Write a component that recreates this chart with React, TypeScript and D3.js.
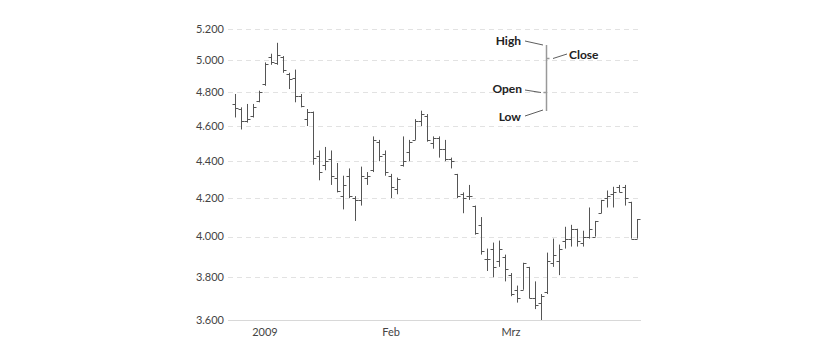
import * as d3 from 'd3';

// trading days, Dec 2008 - Mar 2009
const dates = [
  '2008-12-19', '2008-12-22', '2008-12-23', '2008-12-29', '2008-12-30',
  '2009-01-02', '2009-01-05', '2009-01-06', '2009-01-07', '2009-01-08', '2009-01-09',
  '2009-01-12', '2009-01-13', '2009-01-14', '2009-01-15', '2009-01-16',
  '2009-01-19', '2009-01-20', '2009-01-21', '2009-01-22', '2009-01-23',
  '2009-01-26', '2009-01-27', '2009-01-28', '2009-01-29', '2009-01-30',
  '2009-02-02', '2009-02-03', '2009-02-04', '2009-02-05', '2009-02-06',
  '2009-02-09', '2009-02-10', '2009-02-11', '2009-02-12', '2009-02-13',
  '2009-02-16', '2009-02-17', '2009-02-18', '2009-02-19', '2009-02-20',
  '2009-02-23', '2009-02-24', '2009-02-25', '2009-02-26', '2009-02-27',
  '2009-03-02', '2009-03-03', '2009-03-04', '2009-03-05', '2009-03-06',
  '2009-03-09', '2009-03-10', '2009-03-11', '2009-03-12', '2009-03-13',
  '2009-03-16', '2009-03-17', '2009-03-18', '2009-03-19', '2009-03-20',
  '2009-03-23', '2009-03-24', '2009-03-25', '2009-03-26', '2009-03-27',
  '2009-03-30', '2009-03-31',
];

const open = [
  4730, 4700, 4630, 4660, 4750,
  4850, 5020, 4980, 5020, 4910, 4890,
  4780, 4640, 4680, 4430, 4380,
  4410, 4310, 4210, 4320, 4200,
  4190, 4310, 4350, 4510, 4440,
  4320, 4250, 4380, 4450, 4520,
  4630, 4660, 4500, 4530, 4470,
  4410, 4330, 4220, 4210, 4160,
  4060, 3890, 3940, 3880, 3900,
  3810, 3740, 3740, 3850, 3700,
  3680, 3730, 3870, 3880, 3980,
  3990, 4040, 3970, 4000, 4000,
  4120, 4200, 4220, 4260, 4260,
  4180, 3990,
];
const high = [
  4790, 4710, 4730, 4730, 4810,
  4985, 5040, 5110, 5025, 4920, 4940,
  4790, 4700, 4685, 4460, 4480,
  4460, 4390, 4320, 4360, 4210,
  4370, 4340, 4540, 4520, 4460,
  4330, 4310, 4540, 4520, 4640,
  4690, 4670, 4540, 4540, 4520,
  4420, 4330, 4230, 4270, 4160,
  4100, 3940, 3970, 3980, 3910,
  3820, 3760, 3870, 3850, 3780,
  3720, 3920, 3990, 3960, 4050,
  4060, 4040, 4030, 4150, 4080,
  4190, 4240, 4260, 4270, 4270,
  4180, 4090,
];
const low = [
  4650, 4580, 4620, 4650, 4740,
  4840, 4970, 4970, 4920, 4820, 4740,
  4710, 4600, 4380, 4295, 4350,
  4270, 4230, 4140, 4200, 4080,
  4160, 4270, 4340, 4400, 4320,
  4200, 4220, 4370, 4400, 4520,
  4600, 4510, 4470, 4420, 4400,
  4360, 4200, 4120, 4190, 4010,
  3910, 3830, 3800, 3850, 3780,
  3710, 3680, 3740, 3700, 3650,
  3600, 3720, 3850, 3810, 3940,
  3950, 3950, 3950, 3990, 4000,
  4120, 4150, 4150, 4230, 4160,
  3990, 3990,
];
const close = [
  4705, 4630, 4640, 4710, 4800,
  4975, 4990, 5030, 4940, 4880, 4780,
  4720, 4680, 4420, 4340, 4400,
  4320, 4240, 4270, 4210, 4190,
  4320, 4320, 4520, 4430, 4340,
  4260, 4300, 4400, 4510, 4630,
  4670, 4520, 4530, 4470, 4410,
  4400, 4210, 4200, 4210, 4020,
  3930, 3890, 3850, 3940, 3840,
  3720, 3700, 3870, 3700, 3670,
  3710, 3880, 3910, 3940, 3990,
  4040, 3980, 4000, 4040, 4080,
  4190, 4210, 4230, 4230, 4200,
  3990, 4090,
];

const yTicks = [3600, 3800, 4000, 4200, 4400, 4600, 4800, 5000, 5200];
const monthLabels = ['2009', 'Feb', 'Mrz'];

const WIDTH = 840;
const HEIGHT = 360;
const PLOT_LEFT = 228;
const PLOT_RIGHT = 641;
const PLOT_TOP = 29;
const PLOT_BOTTOM = 320;
const TICK = 3;
const BAR_COLOR = '#555';
const FONT = 'Lato, "Open Sans", sans-serif';

const de = d3.formatLocale({ decimal: ',', thousands: '.', grouping: [3], currency: ['', ' €'] });
const fmt = de.format(',');

export default function App() {
  const x = d3.scalePoint<string>().domain(dates).range([PLOT_LEFT + 7, PLOT_RIGHT - 4]);
  const y = d3.scaleLog().domain([3600, 5200]).range([PLOT_BOTTOM, PLOT_TOP]);

  // first trading day of each new month gets a label
  const monthStarts = dates.filter((d, i) => i > 0 && d.slice(5, 7) !== dates[i - 1].slice(5, 7));

  const px = (v: number) => Math.round(v) + 0.5;

  // legend sample bar
  const lg = { x: 546.5, high: 45, close: 58.5, open: 92.5, low: 111 };

  return (
    <svg
      width={WIDTH}
      height={HEIGHT}
      style={{ position: 'absolute', left: 0, top: 0, background: '#fff' }}
      fontFamily={FONT}
    >
      <g className="grid">
        {yTicks.map((t, i) => (
          <line
            key={t}
            x1={PLOT_LEFT}
            x2={PLOT_RIGHT}
            y1={px(y(t))}
            y2={px(y(t))}
            stroke={i === 0 ? '#d8d8d8' : '#e2e2e2'}
            strokeDasharray={i === 0 ? undefined : '5,4'}
          />
        ))}
      </g>
      <g className="y-axis" fontSize={11} fill="#444" textAnchor="end">
        {yTicks.map((t) => (
          <text key={t} x={224} y={y(t)} dy="0.35em">
            {fmt(t)}
          </text>
        ))}
      </g>
      <g className="x-axis" fontSize={11} fill="#444" textAnchor="middle">
        {monthStarts.map((d, i) => (
          <text key={d} x={x(d)} y={336}>
            {monthLabels[i]}
          </text>
        ))}
      </g>
      <g className="bars" stroke={BAR_COLOR} strokeWidth={1}>
        {dates.map((d, i) => {
          const cx = px(x(d)!);
          return (
            <g key={d}>
              <line x1={cx} x2={cx} y1={y(high[i])} y2={y(low[i])} />
              <line x1={cx - TICK} x2={cx} y1={px(y(open[i]))} y2={px(y(open[i]))} />
              <line x1={cx} x2={cx + TICK} y1={px(y(close[i]))} y2={px(y(close[i]))} />
            </g>
          );
        })}
      </g>
      <g className="legend">
        <g stroke="#999" strokeWidth={1.5}>
          <line x1={lg.x} x2={lg.x} y1={lg.high} y2={lg.low} />
          <line x1={lg.x - TICK} x2={lg.x} y1={lg.open} y2={lg.open} />
          <line x1={lg.x} x2={lg.x + TICK} y1={lg.close} y2={lg.close} />
        </g>
        <g stroke="#333" strokeWidth={0.8} fill="none">
          <line x1={525} y1={41} x2={543} y2={lg.high} />
          <line x1={567} y1={54} x2={553} y2={lg.close} />
          <line x1={525} y1={90} x2={541} y2={lg.open} />
          <line x1={525} y1={116} x2={543} y2={lg.low - 1} />
        </g>
        <g fontSize={12} fontWeight="bold" fill="#222">
          <text x={521} y={45} textAnchor="end">High</text>
          <text x={569} y={59} textAnchor="start">Close</text>
          <text x={522} y={93} textAnchor="end">Open</text>
          <text x={521} y={121} textAnchor="end">Low</text>
        </g>
      </g>
    </svg>
  );
}
